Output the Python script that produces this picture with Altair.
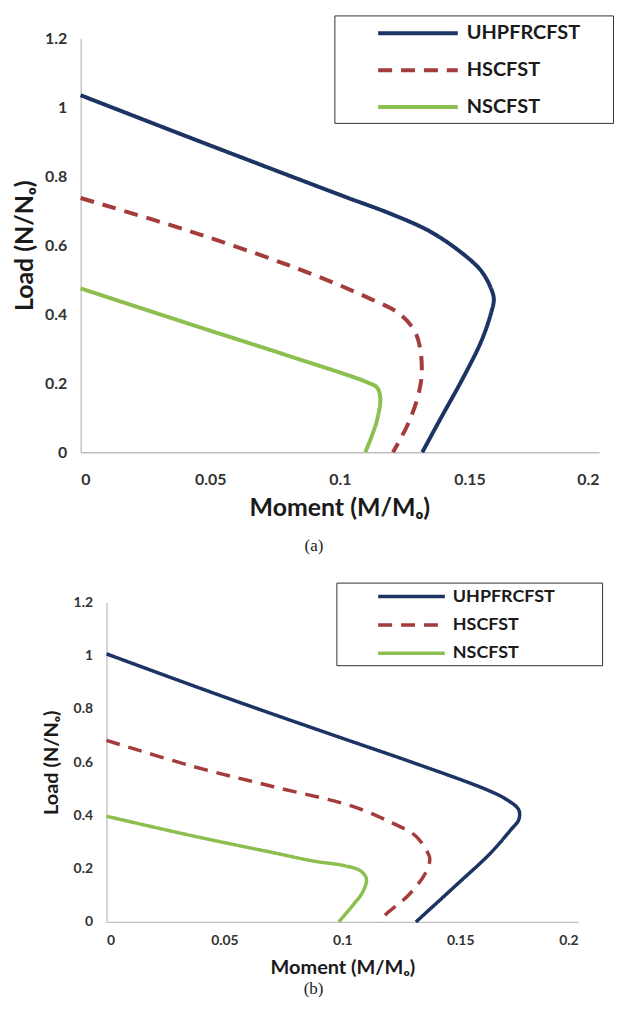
import altair as alt
import pandas as pd

SERIES = ["UHPFRCFST", "HSCFST", "NSCFST"]
COLORS = ["#1C3363", "#A33C3B", "#8DBE50"]
DASHES = [[1, 0], [14, 9], [1, 0]]

X_TICKS = [0, 0.05, 0.1, 0.15, 0.2]
Y_TICKS = [0, 0.2, 0.4, 0.6, 0.8, 1.0, 1.2]

# ---- panel (a) ----
a_uhp_m = [0, 0.0439, 0.1015, 0.1197, 0.1348, 0.147, 0.1545, 0.1583, 0.1594, 0.1583, 0.1545, 0.147, 0.1394, 0.1318]
a_uhp_n = [1.035, 0.907, 0.742, 0.691, 0.640, 0.578, 0.526, 0.475, 0.444, 0.403, 0.321, 0.208, 0.105, 0]
a_hsc_m = [0, 0.047, 0.0894, 0.112, 0.1227, 0.1288, 0.131, 0.1315, 0.1295, 0.1258, 0.1205]
a_hsc_n = [0.737, 0.629, 0.516, 0.444, 0.403, 0.352, 0.30, 0.218, 0.146, 0.074, 0]
a_nsc_m = [0, 0.044, 0.08, 0.1106, 0.1144, 0.1156, 0.1144, 0.1121, 0.1098]
a_nsc_n = [0.475, 0.367, 0.28, 0.2026, 0.187, 0.156, 0.095, 0.043, 0]

# ---- panel (b) ----
b_uhp_m = [0, 0.05, 0.1, 0.1295, 0.1614, 0.1698, 0.1748, 0.1748, 0.1715, 0.163, 0.148, 0.1312]
b_uhp_n = [1.007, 0.845, 0.69, 0.60, 0.496, 0.459, 0.421, 0.384, 0.347, 0.260, 0.136, 0]
b_hsc_m = [0, 0.0372, 0.0708, 0.1044, 0.1211, 0.1312, 0.1362, 0.1371, 0.1354, 0.1279, 0.1195, 0.1153]
b_hsc_n = [0.682, 0.583, 0.508, 0.434, 0.372, 0.322, 0.260, 0.236, 0.186, 0.099, 0.037, 0]
b_nsc_m = [0, 0.0372, 0.0708, 0.0876, 0.101, 0.1077, 0.1102, 0.1086, 0.1044, 0.0985]
b_nsc_n = [0.397, 0.322, 0.260, 0.229, 0.211, 0.192, 0.161, 0.112, 0.062, 0]


def frame(pairs):
    rows = []
    for name, (ms, ns) in zip(SERIES, pairs):
        for i, (m, n) in enumerate(zip(ms, ns)):
            rows.append({"series": name, "m": m, "n": n, "i": i})
    return pd.DataFrame(rows)


def panel(df, width, height, xrange, yoffset, sw, lab_fs, tit_fs, lab_pad_x, lab_pad_y,
          tit_pad_x, tit_pad_y, titleX, leg, caption, cap_fs, cap_dx, cap_offset):
    legend = alt.Legend(
        title=None,
        orient="none", legendX=leg["x"], legendY=leg["y"],
        direction="vertical", symbolType=leg["path"], symbolSize=leg["size"],
        symbolStrokeWidth=leg["sw"], symbolFillColor="transparent",
        labelFont="Lato", labelFontWeight="bold",
        labelFontSize=leg["fs"], labelColor="#1a1a1a", padding=leg["pad"],
        rowPadding=leg["rowpad"], symbolOffset=leg["symoff"], labelOffset=leg["laboff"],
        strokeColor="#333333", fillColor="white", cornerRadius=0,
    )
    xaxis = alt.Axis(values=X_TICKS, format="~g", title="Moment (M/M\u2092)",
                     labelPadding=lab_pad_x, titlePadding=tit_pad_x, labelFontSize=lab_fs,
                     titleFontSize=tit_fs, titleX=titleX)
    yaxis = alt.Axis(values=Y_TICKS, format="~g", title="Load (N/N\u2092)",
                     labelPadding=lab_pad_y, titlePadding=tit_pad_y, labelFontSize=lab_fs,
                     titleFontSize=tit_fs, offset=yoffset)
    chart = alt.Chart(df).mark_line(interpolate="catmull-rom", strokeWidth=sw).encode(
        x=alt.X("m:Q", scale=alt.Scale(domain=[0, 0.2], range=xrange, nice=False, zero=False), axis=xaxis),
        y=alt.Y("n:Q", scale=alt.Scale(domain=[0, 1.2], nice=False), axis=yaxis),
        color=alt.Color("series:N", scale=alt.Scale(domain=SERIES, range=COLORS), legend=legend),
        strokeDash=alt.StrokeDash("series:N", scale=alt.Scale(domain=SERIES, range=DASHES), legend=legend),
        order=alt.Order("i:Q"),
    ).properties(
        width=width, height=height,
        title=alt.TitleParams(caption, orient="bottom", font="Liberation Serif", fontSize=cap_fs,
                              fontWeight="normal", color="#222222", dx=cap_dx, offset=cap_offset),
    )
    return chart


# legend symbol: a visible stroke plus a trailing move-to that widens the legend frame
top = panel(
    frame([(a_uhp_m, a_uhp_n), (a_hsc_m, a_hsc_n), (a_nsc_m, a_nsc_n)]),
    521, 416, [0, 521], 0, 4, 16, 25, 19, 14, 9, 7, 260,
    dict(x=255, y=-23, path="M-4,0H4M18.2,0", size=400, sw=4, fs=20, pad=6, rowpad=15,
         symoff=66, laboff=37),
    "(a)", 17, -26, 17,
)
bottom = panel(
    frame([(b_uhp_m, b_uhp_n), (b_hsc_m, b_hsc_n), (b_nsc_m, b_nsc_n)]),
    500, 321, [26, 500], -26, 3.5, 14, 20, 12, 14, 10, 12, 263,
    dict(x=257, y=-20, path="M-3.72,0H3.72M20.08,0", size=324, sw=3.5, fs=18, pad=3, rowpad=8.5,
         symoff=61.5, laboff=30.5),
    "(b)", 17, -16, 3,
)

chart = alt.vconcat(top, bottom, spacing=151, bounds="flush").resolve_scale(
    color="independent", strokeDash="independent", x="independent", y="independent"
).properties(
    padding={"left": 4, "top": 4, "right": 0, "bottom": 0}
).configure_axis(
    domainColor="#BFBFBF", domainWidth=1.3, ticks=False, grid=False,
    labelFont="Lato", labelFontWeight="bold", labelColor="#333333",
    titleFont="Lato", titleFontWeight="bold", titleColor="#1a1a1a",
).configure_view(strokeWidth=0)

chart.save("out.html", embed_options={"renderer": "svg", "actions": False})
